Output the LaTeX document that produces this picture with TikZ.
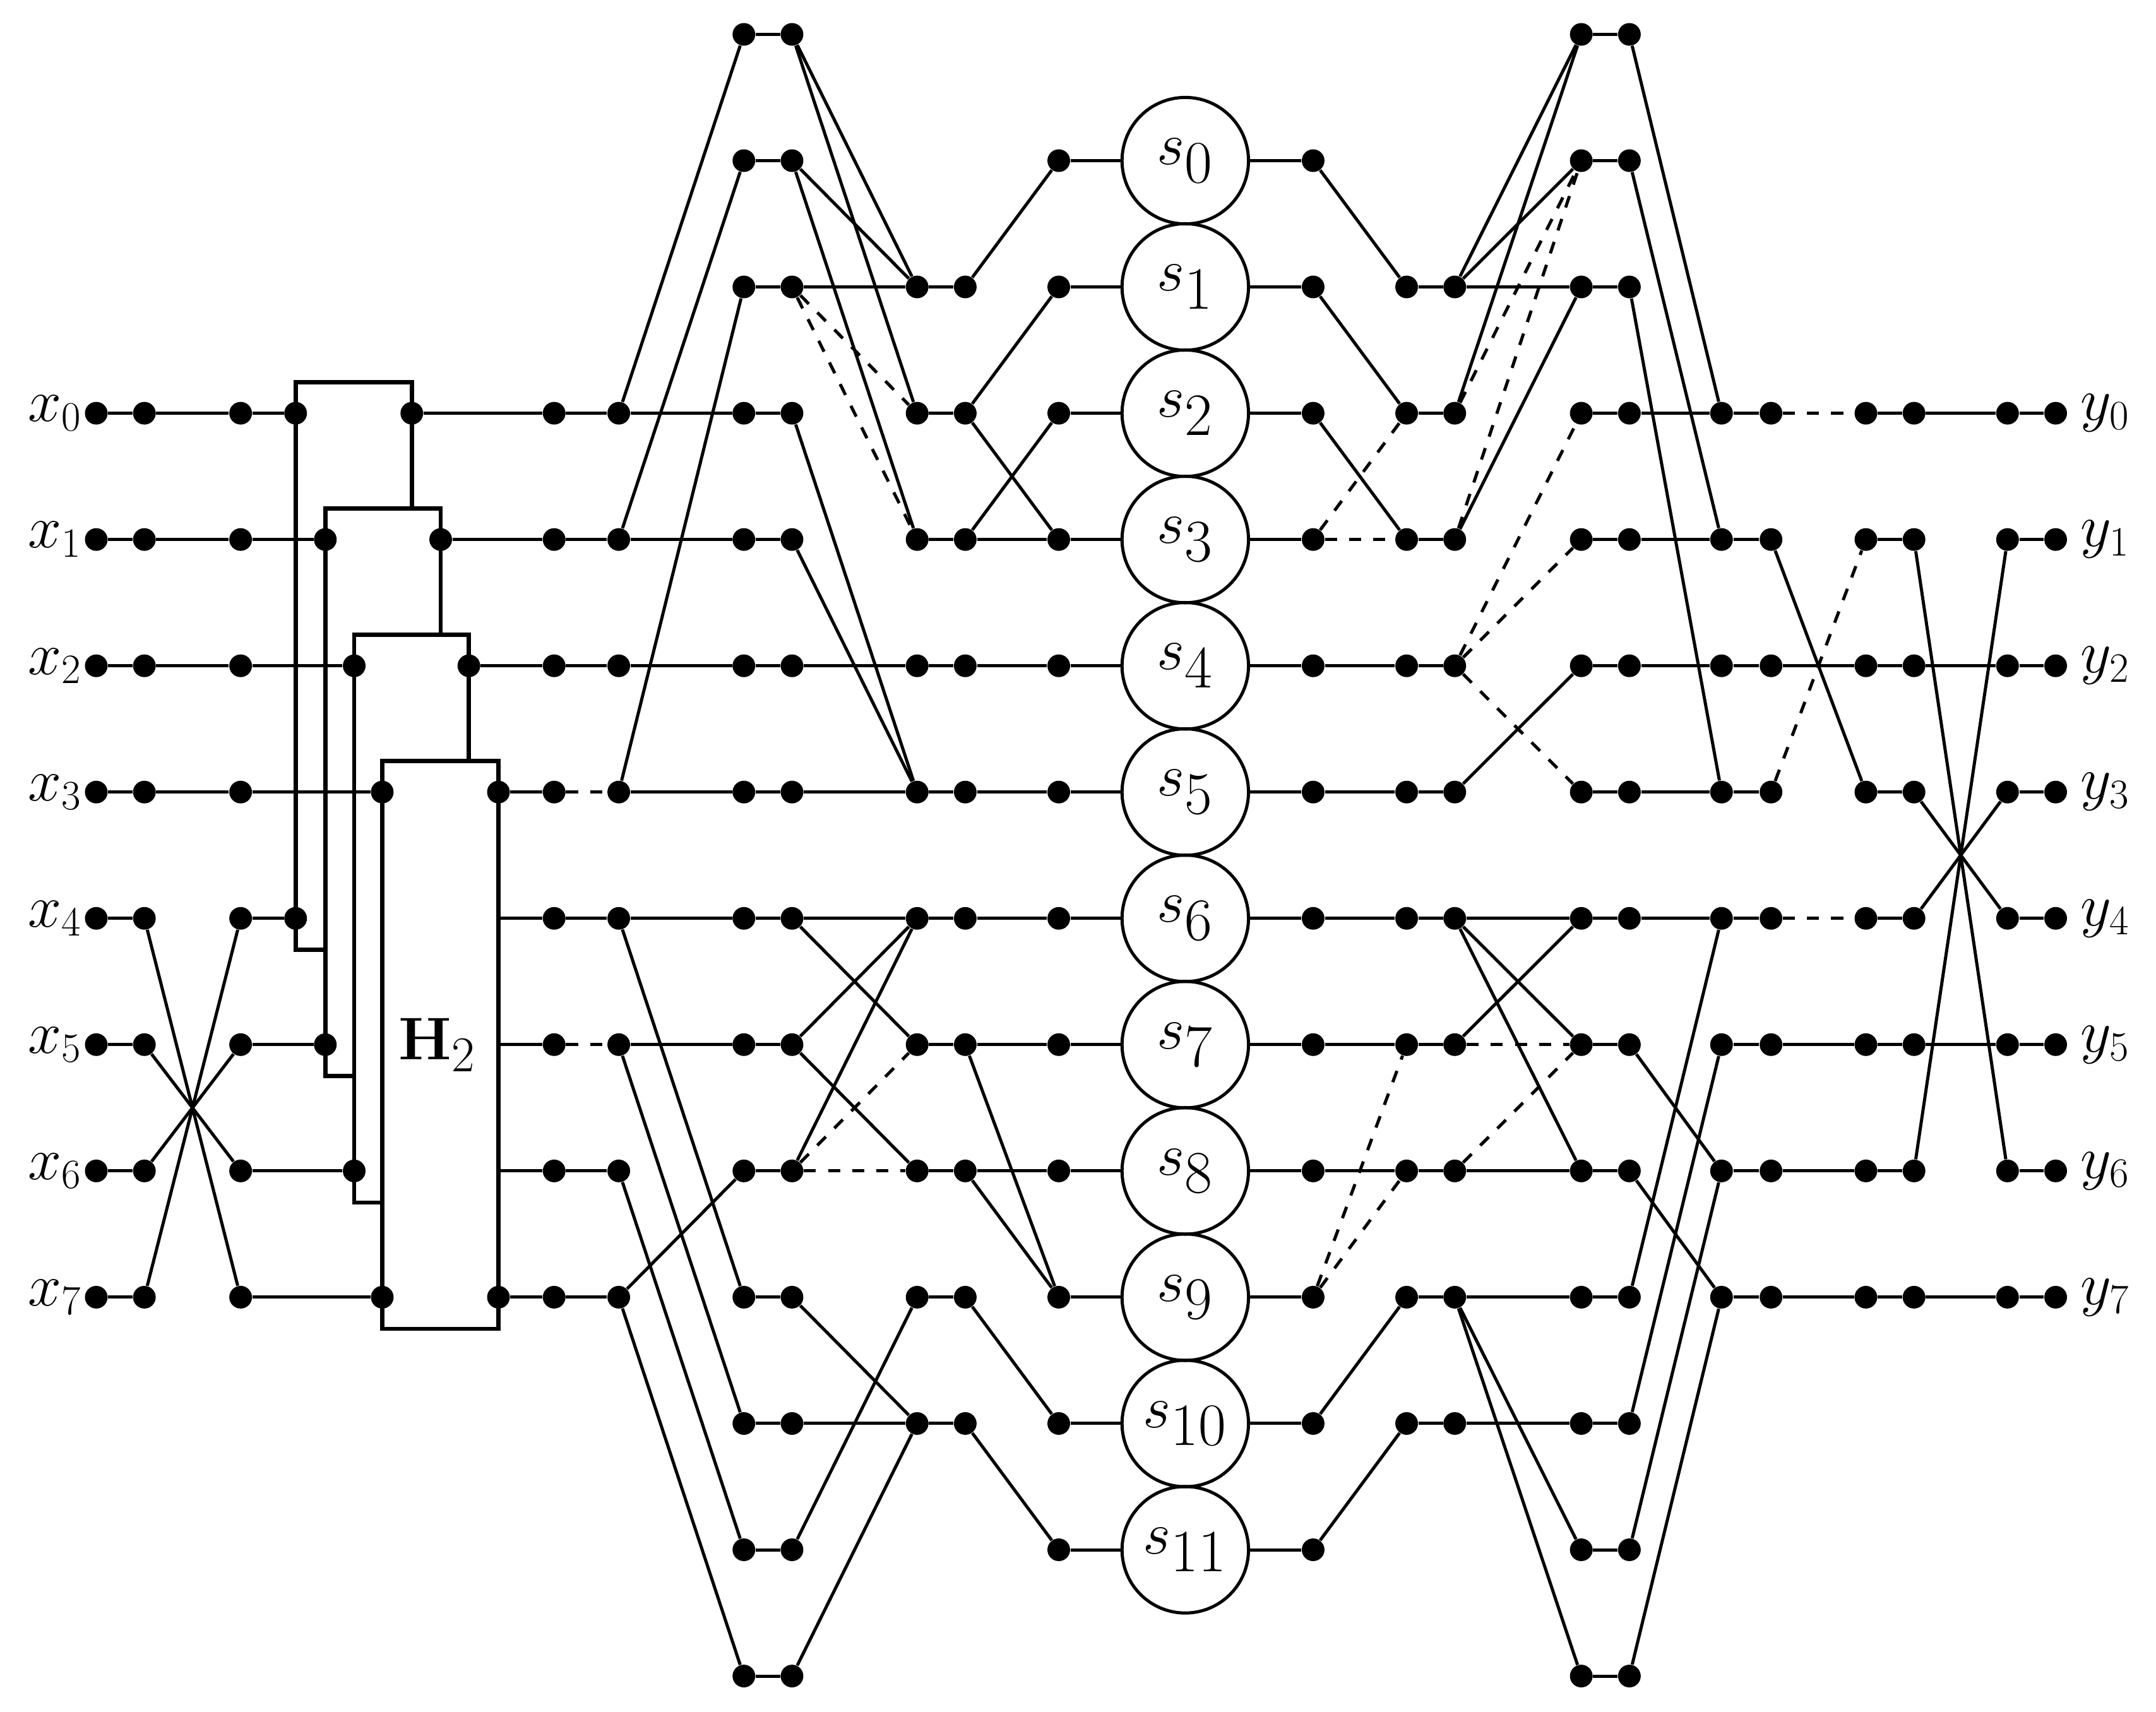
\documentclass[tikz,border=0pt]{standalone}
\begin{document}
\begin{tikzpicture}[x=0.02cm,y=-0.02cm]
\tikzset{dot/.style={circle,fill,inner sep=0pt,minimum size=0.33cm},
 wire/.style={line width=1.3pt},
 dsh/.style={line width=1.3pt,dash pattern=on 5pt off 5pt},
 box/.style={line width=1.8pt,fill=white},
 sc/.style={circle,draw,line width=1.3pt,minimum size=1.84cm,inner sep=0pt,font=\fontsize{36}{36}\selectfont},
 lab/.style={font=\fontsize{25}{25}\selectfont}}
\useasboundingbox (0,0) rectangle (1568,1245);
% boxes
\foreach \i/\dl/\er in {0/215/299.5,1/236.6/320.5,2/257.6/341,3/278/362.5}{
  \pgfmathsetmacro\tp{25+91.85*(\i+3)-22.5}
  \pgfmathsetmacro\bt{25+91.85*(\i+7)+23}
  \draw[box] (\dl,\tp) rectangle (\er,\bt);
  \pgfmathsetmacro\ya{25+91.85*(\i+3)}
  \pgfmathsetmacro\yb{25+91.85*(\i+7)}
  \node[dot] (DL\i) at (\dl,\ya) {};
  \node[dot] (DM\i) at (\dl,\yb) {};
  \node[dot] (ER\i) at (\er,\ya) {};
}
\node[dot] (ERb) at (362.5,{25+91.85*10}) {};
\foreach \r in {7,8,9}{\coordinate (EE\r) at (362.5,{25+91.85*\r});}
\node[font=\fontsize{32}{32}\selectfont] (h2) at (318,760) {$\mathbf{H}_2$};
% dots
\foreach \c/\xx/\lo/\hi in {A/70/3/10,B/105/3/10,C/175/3/10,F/403/3/10,G/450/3/10,H/541/0/13,I/576/0/13,J/667/2/11,K/702/2/11,L/770/1/12,M/955/1/12,N/1023/2/11,O/1058/2/11,P/1150/0/13,Q/1185/0/13,R/1252/3/10,T/1288/3/10,U/1357/3/10,V/1392/3/10,W/1460/3/10,X/1495/3/10}{
  \foreach \r in {\lo,...,\hi}{
    \pgfmathsetmacro\yy{25+91.85*\r}
    \node[dot] (\c\r) at (\xx,\yy) {};
  }
}
% circles and labels
\foreach \k in {0,...,11}{
  \pgfmathsetmacro\yy{25+91.85*(\k+1)}
  \node[sc] (s\k) at (862,\yy) {$s_{\k}$};
}
\foreach \i in {0,...,7}{
  \pgfmathsetmacro\yy{25+91.85*(\i+3)}
  \node[lab] (xl\i) at (40,\yy) {$x_{\i}$};
  \node[lab] (yl\i) at (1531,\yy) {$y_{\i}$};
}
% wires
\foreach \r in {3,...,10}{
  \draw[wire] (A\r) -- (B\r);
  \draw[wire] (R\r) -- (T\r);
  \draw[wire] (U\r) -- (V\r);
  \draw[wire] (W\r) -- (X\r);
}
\foreach \r in {0,...,13}{\draw[wire] (H\r) -- (I\r); \draw[wire] (P\r) -- (Q\r);}
\foreach \r in {2,...,11}{\draw[wire] (J\r) -- (K\r); \draw[wire] (N\r) -- (O\r);}
\foreach \k in {0,...,11}{
  \pgfmathtruncatemacro\r{\k+1}
  \draw[wire] (L\r) -- (s\k);
  \draw[wire] (s\k) -- (M\r);
}
\foreach \a/\b in {B3/C3,B4/C4,B5/C5,B6/C6,B7/C10,B8/C9,B9/C8,B10/C7,
  C3/DL0,C4/DL1,C5/DL2,C6/DL3,C7/DM0,C8/DM1,C9/DM2,C10/DM3,
  ER0/F3,ER1/F4,ER2/F5,ER3/F6,EE7/F7,EE8/F8,EE9/F9,ERb/F10,
  F3/G3,F4/G4,F5/G5,F7/G7,F9/G9,F10/G10,
  G3/H3,G3/H0,G4/H4,G4/H1,G5/H5,G6/H6,G6/H2,G7/H7,G7/H10,G8/H8,G8/H11,G9/H12,G10/H9,G10/H13,
  I0/J2,I0/J3,I1/J2,I1/J4,I2/J2,I3/J6,I4/J6,I5/J5,I6/J6,
  I7/J7,I7/J8,I8/J7,I8/J9,I9/J7,I10/J11,I11/J11,I12/J10,I13/J11,
  K2/L1,K3/L2,K3/L4,K4/L3,K4/L4,K5/L5,K6/L6,K7/L7,K8/L8,K8/L10,K9/L9,K9/L10,K10/L11,K11/L12,
  M1/N2,M2/N3,M3/N4,M5/N5,M6/N6,M7/N7,M8/N8,M9/N9,M11/N10,M12/N11,
  O2/P0,O2/P1,O2/P2,O3/P0,O4/P2,O6/P5,O7/P7,O7/P8,O7/P9,O8/P7,O9/P9,O10/P10,O10/P12,O10/P13,O11/P11,
  Q0/R3,Q1/R4,Q2/R6,Q3/R3,Q4/R4,Q5/R5,Q6/R6,Q7/R7,Q8/R9,Q9/R10,Q10/R7,Q11/R8,Q12/R9,Q13/R10,
  T4/U6,T5/U5,T8/U8,T9/U9,T10/U10,
  V3/W3,V4/W9,V5/W5,V6/W7,V7/W6,V8/W8,V9/W4,V10/W10}{
  \draw[wire] (\a) -- (\b);
}
\foreach \a/\b in {F6/G6,F8/G8,I2/J3,I2/J4,I9/J8,I9/J9,M4/N4,M4/N3,M10/N8,M10/N9,
  O3/P1,O4/P1,O5/P3,O5/P4,O5/P6,O8/P8,O9/P8,T3/U3,T6/U4,T7/U7}{
  \draw[dsh] (\a) -- (\b);
}
\end{tikzpicture}
\end{document}
